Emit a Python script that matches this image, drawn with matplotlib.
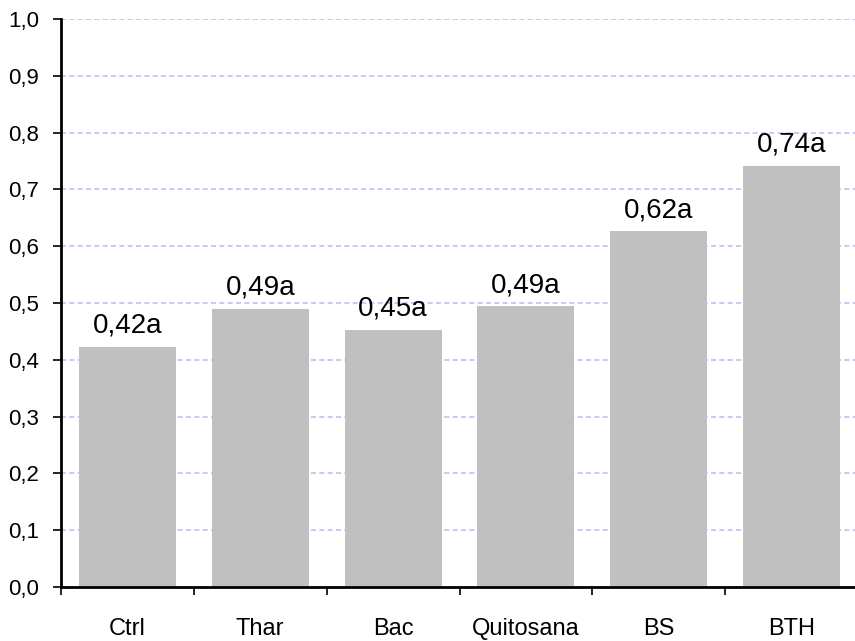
import numpy as np
import matplotlib.pyplot as plt

plt.rcParams['font.family'] = ['Liberation Sans', 'DejaVu Sans']

categories = ['Ctrl', 'Thar', 'Bac', 'Quitosana', 'BS', 'BTH']
values = [0.422, 0.489, 0.452, 0.494, 0.626, 0.741]
labels = ['0,42a', '0,49a', '0,45a', '0,49a', '0,62a', '0,74a']
yticks = np.arange(0, 1.01, 0.1)

fig = plt.figure(figsize=(8.55, 6.41), dpi=100)
# the plot area runs a little past the right edge of the figure
ax = fig.add_axes([61 / 855, 54 / 641, 797 / 855, 568 / 641])

x = np.arange(len(categories))
ax.bar(x, values, width=0.73, color='#c0c0c0', zorder=2)

for xi, v, lab in zip(x, values, labels):
    ax.annotate(lab, (xi, v), xytext=(0, 6), textcoords='offset points',
                ha='center', va='bottom', fontsize=20)

ax.set_xlim(-0.5, len(categories) - 0.5)
ax.set_ylim(0, 1.0)
ax.set_yticks(yticks)
ax.set_yticklabels([f'{t:.1f}'.replace('.', ',') for t in yticks], fontsize=16)
ax.yaxis.grid(True, color='#c0c0f6', linestyle=(0, (3, 2)), linewidth=1.2, zorder=0)

# category labels centered, ticks between categories
ax.set_xticks(np.arange(len(categories) + 1) - 0.5)
ax.set_xticklabels([])
ax.set_xticks(x, minor=True)
ax.set_xticklabels(categories, minor=True, fontsize=17)
ax.tick_params(axis='x', which='minor', length=0, pad=22)
ax.tick_params(axis='x', which='major', length=6, width=1.2, direction='out')
ax.tick_params(axis='y', length=6, width=1.2, direction='out', pad=10)

for side in ['top', 'right']:
    ax.spines[side].set_visible(False)
for side in ['left', 'bottom']:
    ax.spines[side].set_linewidth(2)

fig.savefig('out.png', dpi=100)
